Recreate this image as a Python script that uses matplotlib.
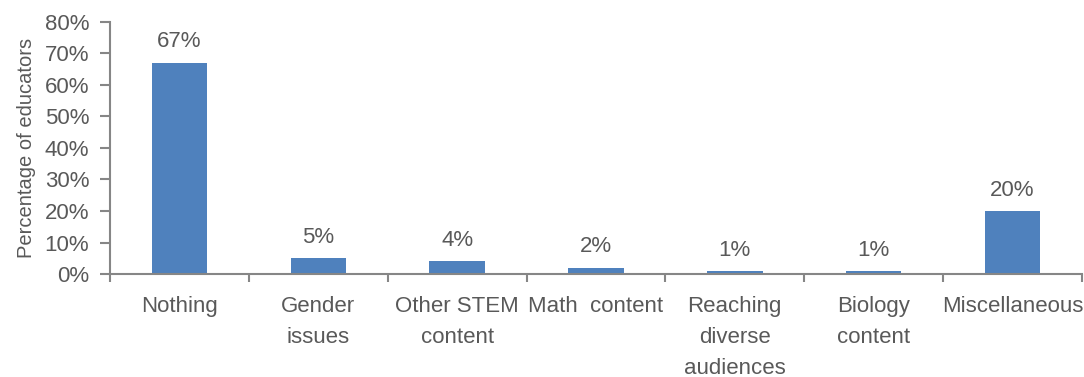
import numpy as np
import matplotlib
matplotlib.use("Agg")
import matplotlib.pyplot as plt
import matplotlib.ticker as mticker

categories = ["Nothing", "Gender\nissues", "Other STEM\ncontent", "Math  content",
              "Reaching\ndiverse\naudiences", "Biology\ncontent", "Miscellaneous"]
values = [67, 5, 4, 2, 1, 1, 20]
yticks = [0, 10, 20, 30, 40, 50, 60, 70, 80]

plt.rcParams['font.family'] = ['Liberation Sans', 'DejaVu Sans']

textcolor = '#595959'
axiscolor = '#868686'
barcolor = '#4f81bd'

fig = plt.figure(figsize=(10.84, 3.77), dpi=100)
ax = fig.add_axes([0.1015, 0.273, 0.8965, 0.669])

x = np.arange(len(categories))
rects = ax.bar(x, values, 0.4, color=barcolor, edgecolor='none')

for rect in rects:
    h = rect.get_height()
    ax.text(rect.get_x() + rect.get_width() / 2., h + 3.3, '%d%%' % h,
            ha='center', va='bottom', fontsize=16, color=textcolor)

ax.set_xlim(-0.5, len(categories) - 0.5)
ax.set_ylim(0, 80)
ax.set_yticks(yticks)
ax.set_yticklabels(['%d%%' % v for v in yticks])
ax.set_xticks(x)
ax.set_xticklabels(categories, va='top', linespacing=1.62)
ax.xaxis.set_minor_locator(mticker.FixedLocator(np.arange(-0.5, len(categories), 1)))

ax.tick_params(axis='x', which='major', length=0, pad=16, labelsize=16, colors=textcolor)
ax.tick_params(axis='x', which='minor', length=6, direction='out', color=axiscolor, width=1.5)
ax.tick_params(axis='y', length=7, direction='out', color=axiscolor, width=1.5,
               labelsize=16, labelcolor=textcolor, pad=8)

ax.spines['top'].set_visible(False)
ax.spines['right'].set_visible(False)
for s in ['left', 'bottom']:
    ax.spines[s].set_color(axiscolor)
    ax.spines[s].set_linewidth(1.5)

ax.set_ylabel('Percentage of educators', fontsize=14.5, color=textcolor, labelpad=6)

plt.savefig('out.png', dpi=100)
